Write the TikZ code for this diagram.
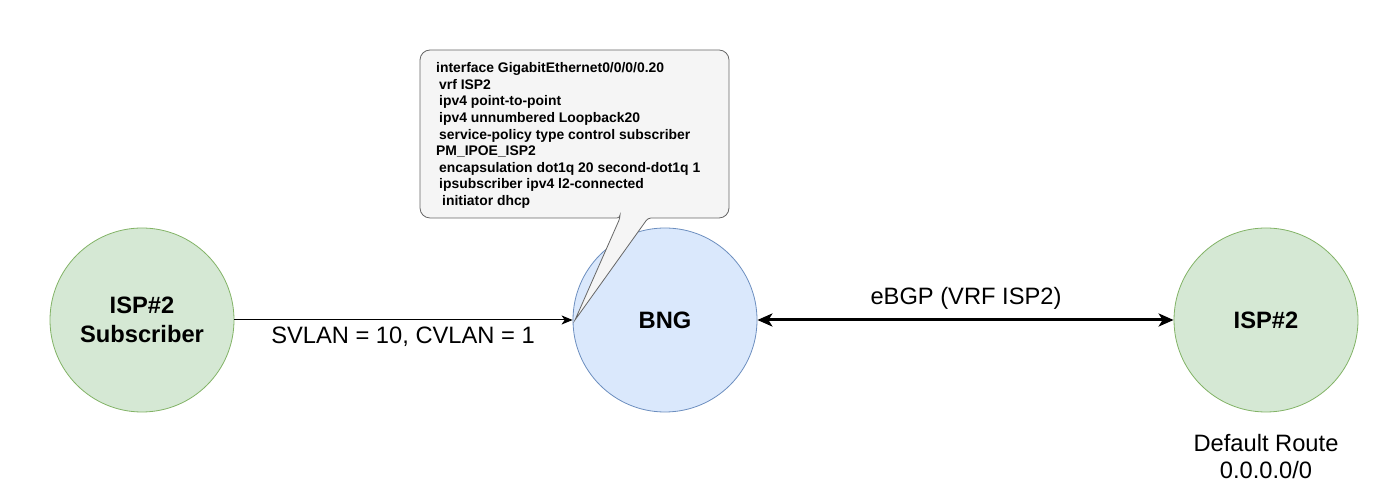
\documentclass[tikz,border=0pt]{standalone}
\usepackage{fontspec}
\setmainfont{Liberation Sans}
\usetikzlibrary{arrows.meta}
\definecolor{gfill}{HTML}{D5E8D4}
\definecolor{gline}{HTML}{82B366}
\definecolor{bfill}{HTML}{DAE8FC}
\definecolor{bline}{HTML}{6C8EBF}
\definecolor{cfill}{HTML}{F5F5F5}
\definecolor{cline}{HTML}{666666}
\begin{document}
\begin{tikzpicture}[x=1pt,y=1pt,
  gnode/.style={circle,draw=gline,fill=gfill,minimum size=184pt,inner sep=0pt,line width=0.8pt,
    font=\fontsize{23.7}{29}\selectfont\bfseries,align=center},
  bnode/.style={circle,draw=bline,fill=bfill,minimum size=184pt,inner sep=0pt,line width=0.8pt,
    font=\fontsize{23.7}{29}\selectfont\bfseries,align=center},
  lbl/.style={font=\fontsize{23.7}{27}\selectfont,align=center,inner sep=0pt},
  cfg/.style={font=\fontsize{13.9}{16.6}\selectfont\bfseries,align=left,inner sep=0pt,anchor=north west}
]
\useasboundingbox (0,0) rectangle (1373,500);
\node[gnode] (sub) at (142,180) {ISP\#2\\Subscriber};
\node[bnode] (bng) at (665,180) {BNG};
\node[gnode] (isp) at (1266,180) {ISP\#2};
\draw[-{Stealth[length=11pt,width=9pt,inset=3pt]},line width=1pt] (sub) -- (bng);
\node[lbl] (l1) at (403,163) {SVLAN = 10, CVLAN = 1};
\draw[{Stealth[length=15pt,width=13pt,inset=4pt]}-{Stealth[length=15pt,width=13pt,inset=4pt]},line width=3pt] (bng) -- (isp);
\node[lbl] (l2) at (966,202) {eBGP (VRF ISP2)};
\node[lbl] (l3) at (1266,43.5) {Default Route\\0.0.0.0/0};
\coordinate (tip) at (575,180);
\draw[draw=cline,fill=cfill,line width=0.8pt,rounded corners=10pt]
  (620,282) -- (420,282) -- (420,450) -- (729,450) -- (729,282) [rounded corners=3pt] -- (648,282) [sharp corners] -- (tip) [rounded corners=3pt] -- (620,282) -- cycle;
\node[cfg] (cfg) at (436,437.5) {interface GigabitEthernet0/0/0/0.20\\
\hspace{3pt}vrf ISP2\\
\hspace{3pt}ipv4 point-to-point\\
\hspace{3pt}ipv4 unnumbered Loopback20\\
\hspace{3pt}service-policy type control subscriber\\
PM\_IPOE\_ISP2\\
\hspace{3pt}encapsulation dot1q 20 second-dot1q 1\\
\hspace{3pt}ipsubscriber ipv4 l2-connected\\
\hspace{6pt}initiator dhcp};
\end{tikzpicture}
\end{document}
